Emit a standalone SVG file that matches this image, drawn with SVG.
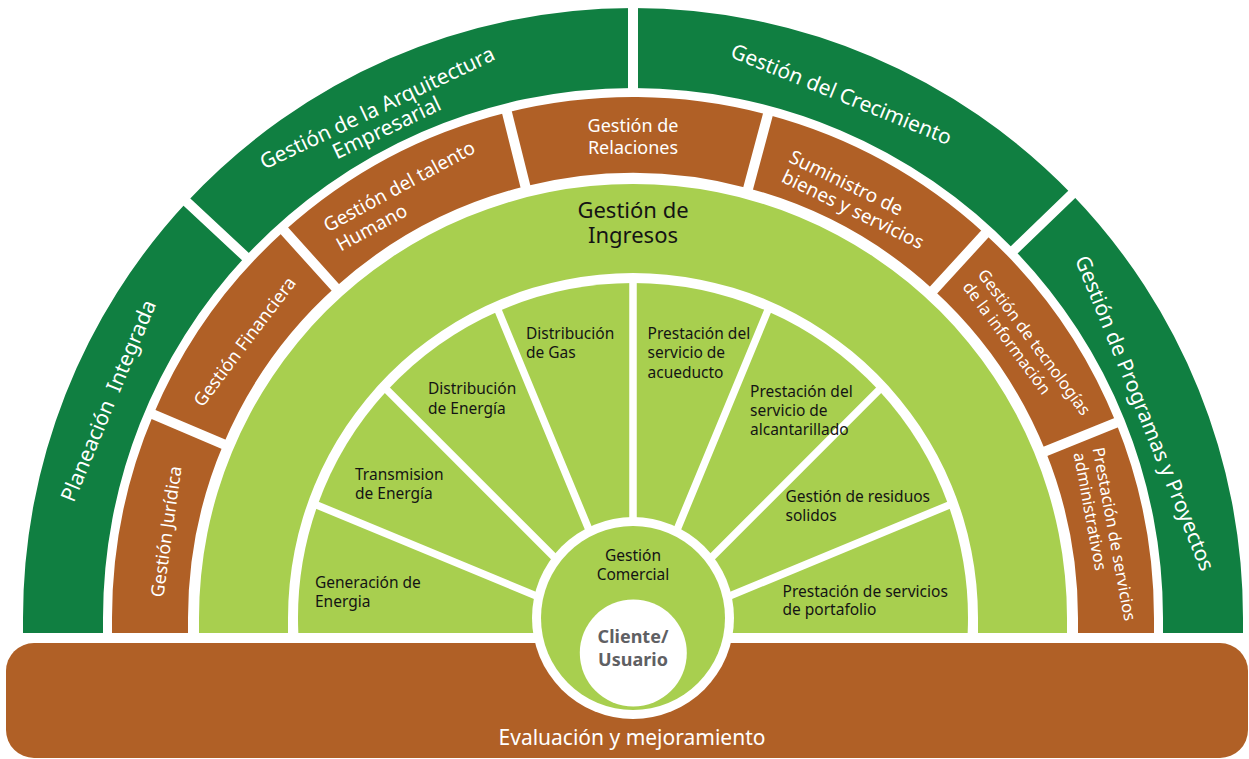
<svg xmlns="http://www.w3.org/2000/svg" width="1249" height="759" viewBox="0 0 1249 759">
<style>
.dg{fill:#107f41}
.br{fill:#b06026}
.lg{fill:#a8cf4f}
.tw{fill:#fff;font-family:"Noto Sans","Liberation Sans",sans-serif}
.tb{fill:#141414;font-family:"Noto Sans","Liberation Sans",sans-serif}
.t21{font-size:21px}
.t18{font-size:18px}
.t19{font-size:19px}
.t16{font-size:16.5px}
.in{font-size:15.5px}
.m{text-anchor:middle}
.cl{font-family:"Noto Sans","Liberation Sans",sans-serif;font-weight:bold;font-size:18px;fill:#5f6063;text-anchor:middle}
</style>
<defs>
<mask id="gaps" maskUnits="userSpaceOnUse" x="0" y="0" width="1249" height="759">
<rect width="1249" height="759" fill="#fff"/>
<path stroke="#000" stroke-width="10" fill="none" d="M249.04,259.95 L183.22,198.57 M633,93 L633,3 M1010.65,253.30 L1075.39,190.78 M227.98,446.08 L148.82,412.48 M338.58,291.02 L281.04,227.11 M526.56,191.07 L505.75,107.62 M746.88,192.99 L769.14,109.92 M930.26,293.60 L988.36,230.19 M1040.96,453.17 L1120.70,420.96"/>
<path stroke="#000" stroke-width="7.5" fill="none" d="M633,636 L314.72,504.17 M633,636 L385.16,388.16 M633,636 L497.30,308.39 M633,636 L633,280 M633,636 L768.70,308.39 M633,636 L880.84,388.16 M633,636 L951.28,504.17"/>
</mask>
</defs>
<rect width="1249" height="759" fill="#fff"/>

<g id="evaluacion">
<rect x="6" y="643" width="1242" height="115" rx="28" class="br"/>
<text class="tw m" x="632" y="745" font-size="21">Evaluación y mejoramiento</text>
</g>

<g id="planeacion">
<path class="dg" mask="url(#gaps)" d="M23,633 L23,618 A610,610 0 0,1 186.88,201.98 L245.38,256.54 A530,530 0 0,0 103,618 L103,633 Z"/>
<text class="tw t21 m" transform="translate(108.2,400.6) rotate(-67.5)" y="7.5" xml:space="preserve">Planeación  Integrada</text>
</g>
<g id="arquitectura">
<path class="dg" mask="url(#gaps)" d="M186.88,201.98 A610,610 0 0,1 633,8 L633,88 A530,530 0 0,0 245.38,256.54 Z"/>
<g transform="translate(382,118) rotate(-25.5)">
<text class="tw t21 m" y="-4">Gestión de la Arquitectura</text>
<text class="tw t21 m" y="18">Empresarial</text>
</g>
</g>
<g id="crecimiento">
<path class="dg" mask="url(#gaps)" d="M633,8 A610,610 0 0,1 1071.80,194.26 L1014.25,249.83 A530,530 0 0,0 633,88 Z"/>
<text class="tw t21 m" transform="translate(841.5,94) rotate(22)" y="7.5">Gestión del Crecimiento</text>
</g>
<g id="programas">
<path class="dg" mask="url(#gaps)" d="M1071.80,194.26 A610,610 0 0,1 1243,618 L1243,633 L1163,633 L1163,618 A530,530 0 0,0 1014.25,249.83 Z"/>
<text class="tw t21 m" transform="translate(1145,413) rotate(68)" y="7.5">Gestión de Programas y Proyectos</text>
</g>

<g id="juridica">
<path class="br" mask="url(#gaps)" d="M112,633 L112,618 A521,521 0 0,1 153.42,414.43 L223.38,444.13 A445,445 0 0,0 188,618 L188,633 Z"/>
<text class="tw t18 m" transform="translate(166,531.5) rotate(-82)" y="6.5">Gestión Jurídica</text>
</g>
<g id="financiera">
<path class="br" mask="url(#gaps)" d="M153.42,414.43 A521,521 0 0,1 284.38,230.82 L335.24,287.30 A445,445 0 0,0 223.38,444.13 Z"/>
<text class="tw t18 m" transform="translate(244.5,341.5) rotate(-53)" y="6.5">Gestión Financiera</text>
</g>
<g id="talento">
<path class="br" mask="url(#gaps)" d="M284.38,230.82 A521,521 0 0,1 506.96,112.47 L525.35,186.22 A445,445 0 0,0 335.24,287.30 Z"/>
<g transform="translate(328,232.5) rotate(-28.5)">
<text class="tw t19">Gestión del talento</text>
<text class="tw t19" x="2" y="23">Humano</text>
</g>
</g>
<g id="relaciones">
<path class="br" mask="url(#gaps)" d="M506.96,112.47 A521,521 0 0,1 767.85,114.75 L748.17,188.16 A445,445 0 0,0 525.35,186.22 Z"/>
<text class="tw t18 m" x="633" y="132">Gestión de</text>
<text class="tw t18 m" x="633" y="154">Relaciones</text>
</g>
<g id="suministro">
<path class="br" mask="url(#gaps)" d="M767.85,114.75 A521,521 0 0,1 984.98,233.88 L933.64,289.91 A445,445 0 0,0 748.17,188.16 Z"/>
<g transform="translate(787.7,161.6) rotate(26)">
<text class="tw t19">Suministro de</text>
<text class="tw t19" x="2" y="21">bienes y servicios</text>
</g>
</g>
<g id="tecnologias">
<path class="br" mask="url(#gaps)" d="M984.98,233.88 A521,521 0 0,1 1116.06,422.83 L1045.60,451.30 A445,445 0 0,0 933.64,289.91 Z"/>
<g transform="translate(977,274.5) rotate(53.5)">
<text class="tw t16">Gestión de tecnologías</text>
<text class="tw t16" x="1" y="19.5">de la información</text>
</g>
</g>
<g id="administrativos">
<path class="br" mask="url(#gaps)" d="M1116.06,422.83 A521,521 0 0,1 1154,618 L1154,633 L1078,633 L1078,618 A445,445 0 0,0 1045.60,451.30 Z"/>
<g transform="translate(1092.5,448.5) rotate(79.5)">
<text class="tw t16">Prestación de servicios</text>
<text class="tw t16" x="1.5" y="19.5">administrativos</text>
</g>
</g>

<g id="ingresos">
<path class="lg" d="M199,633 L199,618 A434,434 0 0,1 1067,618 L1067,633 L978,633 L978,618 A345,345 0 0,0 288,618 L288,633 Z"/>
<text class="tb m" x="633" y="218" font-size="22">Gestión de</text>
<text class="tb m" x="633" y="243" font-size="22">Ingresos</text>
</g>

<g id="generacion">
<path class="lg" mask="url(#gaps)" d="M633,633 L298.34,633 A335,335 0 0,1 317.52,505.33 L633,636 Z"/>
<text class="tb in" x="315" y="588">Generación de</text>
<text class="tb in" x="315" y="607">Energia</text>
</g>
<g id="transmision">
<path class="lg" mask="url(#gaps)" d="M633,636 L317.52,505.33 A335,335 0 0,1 387.29,390.29 Z"/>
<text class="tb in" x="355" y="480">Transmision</text>
<text class="tb in" x="355" y="499">de Energía</text>
</g>
<g id="distribucion-energia">
<path class="lg" mask="url(#gaps)" d="M633,636 L387.29,390.29 A335,335 0 0,1 498.47,311.20 Z"/>
<text class="tb in" x="428" y="394">Distribución</text>
<text class="tb in" x="428" y="414">de Energía</text>
</g>
<g id="distribucion-gas">
<path class="lg" mask="url(#gaps)" d="M633,636 L498.47,311.20 A335,335 0 0,1 633,283 Z"/>
<text class="tb in" x="526" y="339">Distribución</text>
<text class="tb in" x="526" y="358">de Gas</text>
</g>
<g id="acueducto">
<path class="lg" mask="url(#gaps)" d="M633,636 L633,283 A335,335 0 0,1 767.53,311.20 Z"/>
<text class="tb in" x="647.5" y="339">Prestación del</text>
<text class="tb in" x="647.5" y="358">servicio de</text>
<text class="tb in" x="647.5" y="377.5">acueducto</text>
</g>
<g id="residuos">
<path class="lg" mask="url(#gaps)" d="M633,636 L878.71,390.29 A335,335 0 0,1 948.48,505.33 Z"/>
<text class="tb in" x="785.5" y="501.5">Gestión de residuos</text>
<text class="tb in" x="785.5" y="520.5">solidos</text>
</g>
<g id="portafolio">
<path class="lg" mask="url(#gaps)" d="M633,636 L948.48,505.33 A335,335 0 0,1 967.66,633 L633,633 Z"/>
<text class="tb in" x="782.5" y="596.5">Prestación de servicios</text>
<text class="tb in" x="782.5" y="615">de portafolio</text>
</g>
<g id="alcantarillado">
<path class="lg" mask="url(#gaps)" d="M633,636 L767.53,311.20 A335,335 0 0,1 878.71,390.29 Z"/>
<text class="tb in" x="750" y="396.5">Prestación del</text>
<text class="tb in" x="750" y="416">servicio de</text>
<text class="tb in" x="750" y="435">alcantarillado</text>
</g>

<g id="comercial">
<circle cx="633" cy="618" r="101" fill="#fff"/>
<circle cx="633" cy="618" r="92" class="lg"/>
<text class="tb in m" x="633" y="560.5">Gestión</text>
<text class="tb in m" x="633" y="579.5">Comercial</text>
</g>
<g id="cliente">
<circle cx="633.3" cy="653" r="53.5" fill="#fff"/>
<text class="cl" x="633" y="642.5">Cliente/</text>
<text class="cl" x="633" y="665.5">Usuario</text>
</g>
</svg>
